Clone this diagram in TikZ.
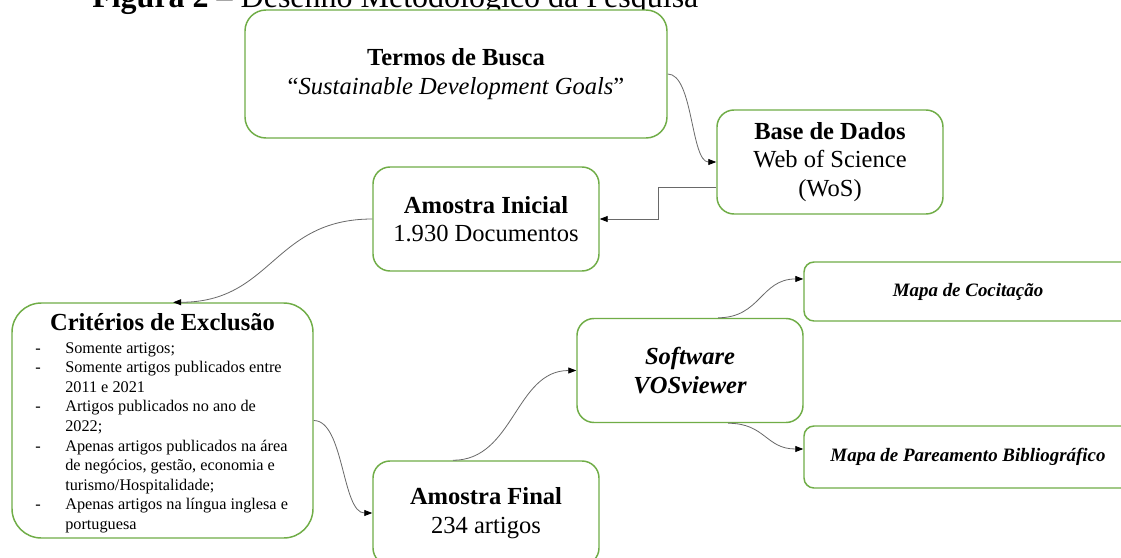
\documentclass[tikz,border=0pt]{standalone}
\usepackage{fontspec}
\setmainfont{Liberation Serif}
\usetikzlibrary{arrows.meta}
\definecolor{boxgreen}{RGB}{112,173,71}
\definecolor{linkgray}{RGB}{105,105,105}
\newcommand{\boxfont}{\fontsize{18.4}{21.4}\selectfont}
\newcommand{\listfont}{\fontsize{12.2}{14.7}\selectfont}
\newcommand{\mapfont}{\fontsize{14.2}{17}\selectfont}

\begin{document}
\begin{tikzpicture}[x=0.75pt, y=-0.75pt,
    >={Triangle[length=6pt, width=4.5pt, color=black]},
    box/.style={draw=boxgreen, line width=1.1pt, fill=white, align=center,
      inner sep=0pt, rounded corners=12.75pt, font=\boxfont},
    midbox/.style={box, minimum width=169.5pt, minimum height=78pt},
    mapbox/.style={box, minimum width=246pt, rounded corners=7.5pt,
      font=\mapfont\bfseries\itshape},
    link/.style={->, linkgray, line width=0.6pt}]
    \useasboundingbox (0,0) rectangle (1121,557);
    \clip (0,0) rectangle (1121,557);
    \fill[white] (0,0) rectangle (1121,557);
    % --- caption line (only its foot shows) ---
    \node[anchor=base west, inner sep=0pt, font=\fontsize{24}{28}\selectfont]
      (figtitle) at (92,7) {\textbf{Figura 2} – Desenho Metodológico da Pesquisa};
    % --- search steps ---
    \node[box, minimum width=316.5pt, minimum height=96pt, rounded corners=15.75pt]
      (tb) at (456,74) {\textbf{Termos de Busca}\\“\textit{Sustainable Development Goals}”};
    \node[midbox] (bd) at (830,162) {\textbf{Base de Dados}\\Web of Science\\(WoS)};
    \node[midbox] (ai) at (486,219) {\textbf{Amostra Inicial}\\1.930 Documentos};
    % --- exclusion criteria ---
    \node[box, minimum width=225.75pt, minimum height=176.25pt, rounded corners=22pt]
      (ce) at (162.5,420.5) {};
    \node[anchor=base, inner sep=0pt, font=\boxfont\bfseries]
      (cetitle) at (162.5,330) {Critérios de Exclusão};
    \node[anchor=base west, inner sep=0pt, font=\listfont] (celist) at (35,353) {%
      \begin{tabular}[t]{@{}p{22.5pt}@{}l@{}}
        - & Somente artigos;\\
        - & Somente artigos publicados entre\\
          & 2011 e 2021\\
        - & Artigos publicados no ano de\\
          & 2022;\\
        - & Apenas artigos publicados na área\\
          & de negócios, gestão, economia e\\
          & turismo/Hospitalidade;\\
        - & Apenas artigos na língua inglesa e\\
          & portuguesa
      \end{tabular}};
    % --- final sample and analysis ---
    \node[midbox] (af) at (486,513) {\textbf{Amostra Final}\\234 artigos};
    \node[midbox, font=\boxfont\bfseries\itshape] (sw) at (690,370.5) {Software\\VOSviewer};
    \node[mapbox, minimum height=44.25pt] (mc) at (968,291.5) {Mapa de Cocitação};
    \node[mapbox, minimum height=46.5pt] (mp) at (968,457) {Mapa de Pareamento Bibliográfico};
    % --- connectors ---
    \draw[link] (tb.east) to[out=0, in=180, looseness=0.65] (bd.west);
    \draw[link] ([yshift=-18.75pt]bd.west) -- ++(-58,0) |- (ai.east);
    \draw[link] (ai.west) to[out=180, in=0, looseness=1.18] ([xshift=8pt]ce.north);
    \draw[link] (ce.east) to[out=0, in=180, looseness=0.71] (af.west);
    \draw[link] ([xshift=-24.75pt]af.north) to[out=0, in=180, looseness=1.02] (sw.west);
    \draw[link] ([xshift=21pt]sw.north) to[out=0, in=180, looseness=1.16] ([yshift=9.4pt]mc.west);
    \draw[link] ([xshift=28.5pt]sw.south) to[out=0, in=180, looseness=1.21] ([yshift=6pt]mp.west);
\end{tikzpicture}
\end{document}
